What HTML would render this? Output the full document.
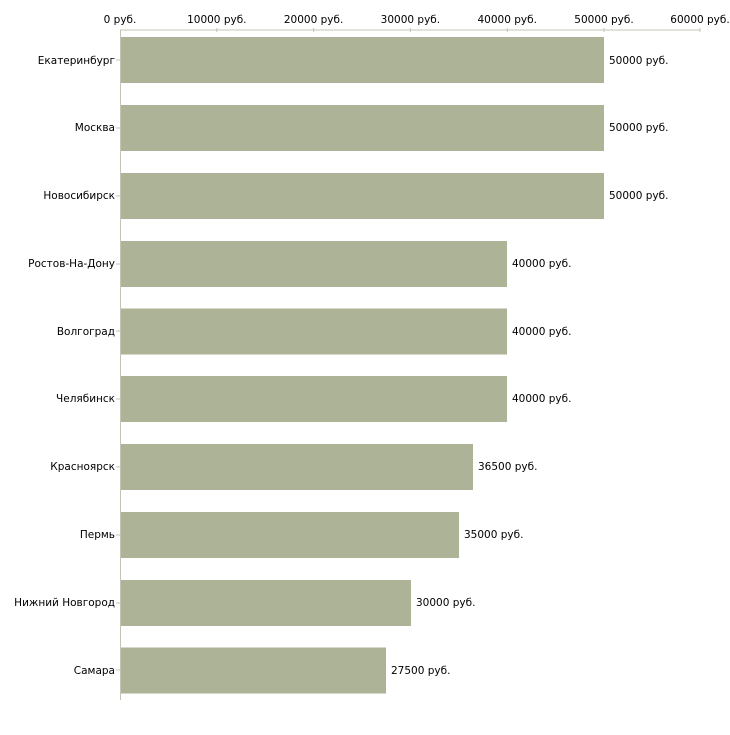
<!DOCTYPE html>
<html><head><meta charset="utf-8"><style>
body{margin:0;background:#fff}
svg text{font-family:"DejaVu Sans","Liberation Sans",sans-serif;font-size:10.5px;fill:#000}
</style></head><body>
<svg width="730" height="730" xmlns="http://www.w3.org/2000/svg">
<line x1="120" y1="30" x2="700" y2="30" stroke="#c4c4b4"/>
<line x1="120.5" y1="30" x2="120.5" y2="700" stroke="#c4c4b4"/>
<g stroke="#c4c4b4">
<line x1="216.8" y1="28" x2="216.8" y2="32"/><line x1="313.6" y1="28" x2="313.6" y2="32"/>
<line x1="410.4" y1="28" x2="410.4" y2="32"/><line x1="507.2" y1="28" x2="507.2" y2="32"/>
<line x1="604" y1="28" x2="604" y2="32"/><line x1="700" y1="28" x2="700" y2="32"/>
</g>
<g text-anchor="middle">
<text x="120" y="23">0 руб.</text><text x="216.8" y="23">10000 руб.</text><text x="313.6" y="23">20000 руб.</text>
<text x="410.4" y="23">30000 руб.</text><text x="507.2" y="23">40000 руб.</text><text x="604" y="23">50000 руб.</text><text x="700" y="23">60000 руб.</text>
</g>
<g fill="#adb396">
<rect x="121" y="37" width="483" height="46"/>
<rect x="121" y="105" width="483" height="46"/>
<rect x="121" y="173" width="483" height="46"/>
<rect x="121" y="241" width="386" height="46"/>
<rect x="121" y="308.5" width="386" height="46"/>
<rect x="121" y="376" width="386" height="46"/>
<rect x="121" y="444" width="352" height="46"/>
<rect x="121" y="512" width="338" height="46"/>
<rect x="121" y="580" width="290" height="46"/>
<rect x="121" y="647.5" width="265" height="46"/>
</g>
<g stroke="#c4c4b4">
<line x1="116" y1="60" x2="120" y2="60"/><line x1="116" y1="128" x2="120" y2="128"/><line x1="116" y1="196" x2="120" y2="196"/>
<line x1="116" y1="264" x2="120" y2="264"/><line x1="116" y1="331" x2="120" y2="331"/><line x1="116" y1="399" x2="120" y2="399"/>
<line x1="116" y1="467" x2="120" y2="467"/><line x1="116" y1="535" x2="120" y2="535"/><line x1="116" y1="603" x2="120" y2="603"/>
<line x1="116" y1="670" x2="120" y2="670"/>
</g>
<g text-anchor="end">
<text x="115" y="64">Екатеринбург</text><text x="115" y="131">Москва</text><text x="115" y="199">Новосибирск</text>
<text x="115" y="267">Ростов-На-Дону</text><text x="115" y="335">Волгоград</text><text x="115" y="402">Челябинск</text>
<text x="115" y="470">Красноярск</text><text x="115" y="538">Пермь</text><text x="115" y="606">Нижний Новгород</text>
<text x="115" y="674">Самара</text>
</g>
<g>
<text x="609" y="64">50000 руб.</text><text x="609" y="131">50000 руб.</text><text x="609" y="199">50000 руб.</text>
<text x="512" y="267">40000 руб.</text><text x="512" y="335">40000 руб.</text><text x="512" y="402">40000 руб.</text>
<text x="478" y="470">36500 руб.</text><text x="464" y="538">35000 руб.</text><text x="416" y="606">30000 руб.</text>
<text x="391" y="674">27500 руб.</text>
</g>
</svg>
</body></html>
